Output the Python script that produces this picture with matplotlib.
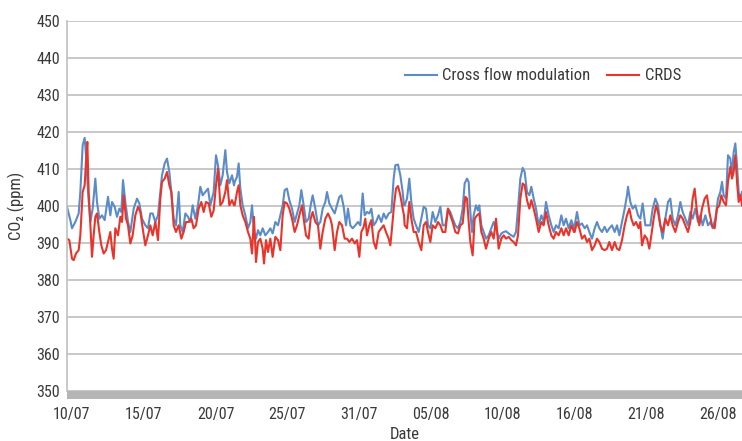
import matplotlib
matplotlib.use("Agg")
import matplotlib.pyplot as plt
from matplotlib.patches import Rectangle
import matplotlib.transforms as mtransforms
from matplotlib import font_manager

# ---------------- data (sample index along the record, CO2 in ppm) ----------------
t_blue = [0,10,15,25,35,40,47,53,57,63,70,77,85,90,97,105,113,123,130,135,
          143,150,157,163,168,175,183,190,200,210,217,225,235,243,250,257,265,273,280,285,
          293,300,307,313,320,327,335,340,347,355,363,370,377,385,393,400,407,415,423,430,
          440,447,453,460,467,475,480,487,495,501,
          503,510,515,520,527,535,543,550,555,561,567,573,580,587,595,603,610,617,625,633,
          640,647,653,660,667,675,683,690,697,703,710,717,725,731,737,745,753,760,767,775,
          780,787,795,803,810,817,823,830,837,843,850,857,865,873,880,887,893,900,907,913,
          920,927,935,943,950,957,965,973,980,985,993,1000,1007,1011,
          1013,1020,1027,1033,1040,1047,1055,1063,1070,1077,1083,1090,1097,1105,1113,1120,1127,1135,1143,1150,
          1157,1165,1173,1180,1187,1193,1200,1205,1210,1215,1220,1227,1233,1237,1243,1250,1257,1265,1273,1280,
          1287,1295,1303,1310,1317,1325,1333,1340,1347,1353,1360,1367,1373,1380,1387,1393,1400,1407,1415,1423,
          1430,1437,1445,1453,1460,1467,1475,1483,1490,1497,1505,1513,1521,
          1523,1530,1537,1545,1553,1560,1567,1575,1583,1590,1597,1605,1613,1620,1627,1635,1643,1650,1657,1665,
          1673,1680,1683,1690,1697,1705,1713,1720,1727,1735,1743,1750,1757,1765,1773,1780,1787,1795,1803,1810,
          1817,1825,1833,1840,1847,1855,1863,1870,1877,1885,1893,1900,1907,1915,1923,1930,1937,1945,1953,1960,
          1965,1970,1977,1983,1990,1995,2000,2005,2010,2015,2020,2025]
cross_flow = [399.8,396.2,394,395.7,398,403.8,416.4,418.4,413.7,403.8,395.7,399.3,407.4,401.1,396.6,397.5,396.2,402.5,397.5,401.1,
              399.8,397.1,399.3,398.4,407,401.1,395.7,393,399.3,402,400.7,396.6,394.8,394,398,398,395.7,397.5,403.8,408.3,
              411.5,412.8,409.2,403.8,396.6,394.8,403.8,394.8,393,398,397.1,395.7,400.2,396.6,400.2,405.2,402.9,403.8,404.7,400.2,
              403.8,413.7,411,405.6,408.3,415.1,409.2,406.1,408.3,405.6,
              406.5,407.9,411.5,404.7,400.2,397.5,394,395.7,400.2,393,391.2,393.5,392.1,394,392.1,393,394,392.6,395.7,394.8,
              397.5,400.2,404.3,404.7,401.6,399.3,395.7,398,400.2,404.3,400.2,395.7,396.6,400.2,402.9,399.3,394.8,395.7,399.3,401.1,
              403.8,400.7,399.3,398,400.2,402.5,402.9,399.8,394.8,399.3,394.8,394,394.8,395.7,394.8,403.4,397.5,398.4,398,399.3,
              394.8,395.7,397.5,395.7,398,396.6,398,398.4,407.4,411,411.2,408.3,403.8,400.2,
              400.2,402,407.4,401.1,396.6,394.8,393,396.6,399.8,399.3,394.8,394,398.4,395.7,397.5,399.8,394.8,394.8,399.3,398.4,
              396.6,394.8,394,395.7,399.3,406.1,407.4,406.5,398.4,393,397.5,400.2,398.8,400.2,394.8,393,391.2,392.1,394,395.7,
              394,391.2,392.6,393,393.2,392.6,392.1,391.7,393,399.3,407.4,410.3,409.2,403.8,402.9,405.2,402,399.3,394.8,397.5,
              395.7,401.1,397.5,394.8,393,394.8,394,397.5,394.8,396.6,394,396.2,394,
              394.8,398.4,394.8,395.3,394,394.8,393,391.2,394,395.7,394,393,394.4,393,394,394.8,393,394.8,392.1,395.7,
              399.3,402.9,405.2,401.1,399.3,400.2,397.5,396.6,400.7,394.8,394.8,394.8,399.3,402,400.2,394.8,391.2,396.6,401.1,402,
              396.6,394.8,397.5,401.1,398.4,396.6,394.8,398.4,396.6,399.3,395.7,397.5,394.8,397.5,394.8,395.7,394,396.6,402,403.8,
              406.5,402.9,402,413.7,412.8,408.3,414.6,416.9,411,403.8,402,403.8]

t_red = [0,7,15,20,27,35,40,47,53,57,61,65,70,75,80,85,90,97,103,110,
         117,123,130,135,140,145,153,160,165,170,177,183,190,197,205,213,220,227,235,243,
         250,257,265,273,280,285,293,300,307,313,320,327,335,343,350,357,365,373,380,387,
         395,403,410,417,425,433,440,447,453,460,467,475,480,487,495,501,
         503,510,515,520,527,535,543,550,555,561,567,573,580,587,591,597,603,610,617,625,
         633,640,647,653,660,667,675,683,690,697,705,710,717,725,731,737,745,753,760,767,
         775,783,790,795,803,810,817,825,833,840,847,855,863,870,877,883,890,895,900,907,
         913,920,927,935,943,950,957,965,970,975,981,987,993,1000,1007,1011,
         1013,1020,1027,1033,1040,1047,1055,1063,1070,1077,1083,1090,1097,1105,1113,1120,1127,1135,1143,1150,
         1157,1165,1173,1180,1187,1195,1200,1205,1210,1217,1223,1230,1237,1243,1250,1257,1265,1273,1280,1287,
         1295,1303,1310,1317,1325,1333,1340,1347,1353,1360,1367,1373,1380,1387,1393,1400,1407,1415,1423,1430,
         1437,1445,1453,1460,1467,1475,1483,1490,1497,1505,1513,1521,
         1523,1530,1537,1545,1553,1560,1567,1575,1583,1590,1597,1605,1613,1620,1627,1635,1643,1650,1657,1665,
         1673,1680,1687,1693,1700,1707,1715,1720,1725,1733,1740,1747,1753,1760,1767,1773,1780,1787,1795,1803,
         1810,1817,1825,1833,1840,1847,1855,1863,1870,1877,1883,1890,1897,1905,1913,1920,1927,1935,1943,1950,
         1957,1963,1970,1977,1983,1990,1995,2000,2005,2010,2015,2020,2025]
crds = [391.2,390.8,385.8,385.4,387.2,388.1,392.1,403.8,405.6,411.9,417.3,403.8,394.8,386.3,392.1,397.1,398,393,389.4,387.2,
        388.1,390.3,393,388.5,385.8,394,392.1,397.1,395.7,402.9,396.6,394.8,389.9,392.1,397.5,399.8,398.4,394,389.4,392.1,
        394.8,392.1,395.7,390.8,402,406.5,407.4,409.2,405.6,403.8,394.8,393,394.8,391.2,393,395.7,395.7,396.6,394,394.8,
        399.3,401.1,398.4,401.1,400.7,397.1,398.8,405.6,410.1,400.2,401.1,403.8,407,400.2,401.6,400.2,
        400.2,403.8,405.6,400.2,397.5,395.7,393,391.2,387.2,397.1,384.9,390.3,391.2,388.5,384.5,390.8,387.6,391.2,386.3,391.7,
        390.8,388.1,397.5,401.1,400.7,399.3,396.6,393,394.8,397.5,400.2,396.6,392.1,391.2,396.6,398.4,395.7,394.8,388.5,393,
        396.6,398,396.6,394.8,388.1,393,395.7,394.8,391.2,391.2,390.3,391.2,389.9,390.8,386.3,393,394.4,396.6,392.1,394.8,
        396.2,390.3,388.5,393,394,394.8,393,391.2,389.4,394,400.2,404.7,405.4,402.9,399.3,397.5,
        394.8,394,401.1,396.6,393,393,390.3,388.1,394.8,395.7,393,390.3,394.8,394,395.7,394.8,393,393,399.3,397.5,
        395.7,393,392.6,394.8,395.3,402.5,402,395.7,390.3,386.7,396.6,397.5,398,393,391.2,388.5,391.2,393,391.2,396.6,
        388.5,391.2,392.1,391.2,391.7,390.8,390.3,389.4,392.1,402,406.1,405.6,401.6,399.3,401.6,399.3,396.6,393,395.7,394.8,
        398.4,394.8,392.1,391.2,393,392.1,394,392.1,394,392.1,394.8,393,
        393,395.7,394,391.2,392.1,390.3,391.2,388.1,389.4,391.2,390.3,388.5,388.1,388.5,390.3,388.1,390.3,388.5,388.1,390.8,
        394.8,397.5,399.3,396.6,394.8,395.7,394,395.7,389.4,392.1,391.2,388.5,392.1,396.6,400.2,398.4,394.8,393,396.6,394.8,
        397.5,394.8,393,395.7,397.5,396.6,394.8,393,395.7,402,404.7,398.4,394.8,399.3,402,402.9,398.4,394.8,394,399.3,
        400.2,402.9,401.1,400.2,406.5,410.6,407.4,409.2,413.7,406.5,401.1,402.9,400.2]

date_labels = ["10/07", "15/07", "20/07", "25/07", "31/07",
               "05/08", "10/08", "16/08", "21/08", "26/08"]
date_label_idx = [15, 230, 446, 661, 877, 1092, 1307, 1523, 1738, 1954]
y_ticks = list(range(350, 451, 10))

n_b = min(len(t_blue), len(cross_flow))
n_r = min(len(t_red), len(crds))

# ---------------- fonts ----------------
installed = {f.name for f in font_manager.fontManager.ttflist}
narrow = [n for n in ["Liberation Sans Narrow", "Roboto Condensed", "Open Sans Condensed"] if n in installed]
FONT = narrow + ["Liberation Sans", "DejaVu Sans"]
plt.rcParams["font.family"] = FONT
FS = 11.5 if narrow else 10.5
TXT = "#3a3a3a"

fig = plt.figure(figsize=(7.42, 4.41), dpi=100)
ax = fig.add_axes([67/742, 1 - 391.4/441, 1 - 67/742, (391.4 - 20.7)/441])

ax.plot(t_blue[:n_b], cross_flow[:n_b], color="#5b8bc8", lw=1.5,
        label="Cross flow modulation", solid_joinstyle="round")
ax.plot(t_red[:n_r], crds[:n_r], color="#e8342a", lw=1.5,
        label="CRDS", solid_joinstyle="round")

ax.set_xlim(0, 2025)
ax.set_ylim(350, 450)
ax.set_yticks(y_ticks)
ax.set_xticks(date_label_idx)
ax.set_xticklabels(date_labels)
ax.tick_params(axis="both", length=0, labelsize=FS, colors=TXT)
ax.tick_params(axis="x", pad=11)
ax.tick_params(axis="y", pad=5)

ax.grid(axis="y", color="#c4c4c4", lw=1.3)
ax.set_axisbelow(True)
for s in ["top", "right", "bottom"]:
    ax.spines[s].set_visible(False)
ax.spines["left"].set_color("#c0c0c0")
ax.spines["left"].set_linewidth(1.2)

# thick grey horizontal axis bar
trans = mtransforms.blended_transform_factory(ax.transAxes, ax.transData)
ax.add_patch(Rectangle((0, 347.9), 1.01, 2.3, transform=trans, clip_on=False,
                       facecolor="#b5b5b5", edgecolor="none", zorder=5))

ax.set_xlabel("Date", fontsize=FS + 0.5, color=TXT, labelpad=4)
ax.set_ylabel("CO₂ (ppm)", fontsize=FS + 0.5, color=TXT, labelpad=8)

leg = fig.legend(loc="center left", bbox_to_anchor=(405/742, 1 - 76/441),
                 ncol=2, frameon=False, fontsize=FS + 0.5, handlelength=1.9,
                 handletextpad=0.35, columnspacing=1.0, borderpad=0, borderaxespad=0)
for t in leg.get_texts():
    t.set_color(TXT)

fig.savefig("out.png", dpi=100)
